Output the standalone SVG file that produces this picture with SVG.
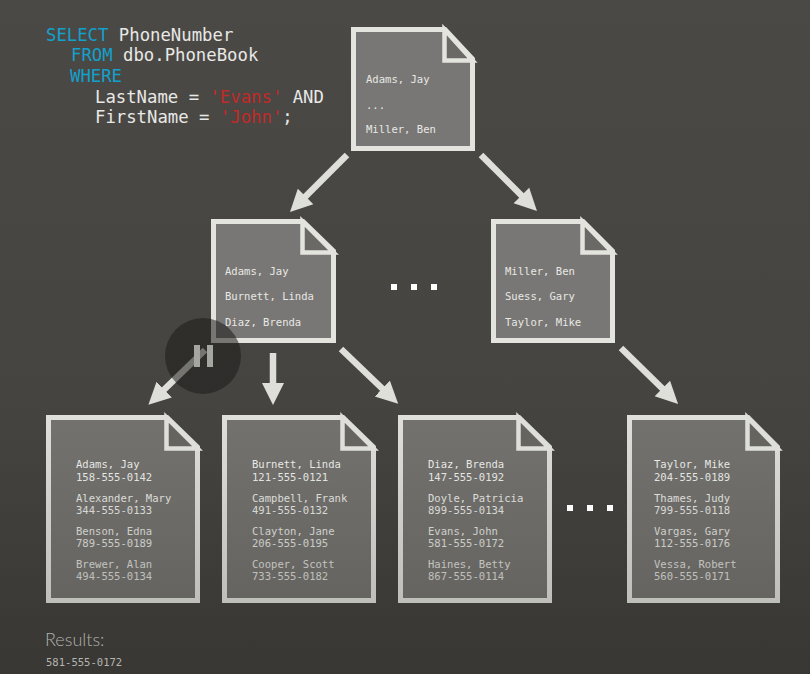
<svg xmlns="http://www.w3.org/2000/svg" width="810" height="674" viewBox="0 0 810 674">
<style>
.t{font-family:"DejaVu Sans Mono","Liberation Mono",monospace;font-size:10.55px;fill:#e8e8e4}
.l{fill:url(#lt)}
.s{font-family:"DejaVu Sans Mono","Liberation Mono",monospace;font-size:17.3px;fill:#e8e8e5}
.k{fill:#12a0cc}.r{fill:#c22a28}
.p{fill:#787775;stroke:#e4e4df;stroke-width:5;stroke-linejoin:miter}
.f{fill:#6a6966;stroke:#e4e4df;stroke-width:4.5}
.lp{fill:url(#pg);stroke:url(#ps);stroke-width:5;stroke-linejoin:miter}
.lf{fill:#65645f;stroke:#dededa;stroke-width:4.5}
.a{stroke:#dfdfda;stroke-width:6.5;fill:none;marker-end:url(#ah)}
.d{fill:#fff}
</style>
<defs>
<linearGradient id="bg" x1="0" y1="0" x2="0" y2="1"><stop offset="0" stop-color="#4b4946"/><stop offset="0.6" stop-color="#464441"/><stop offset="1" stop-color="#383733"/></linearGradient>
<linearGradient id="pg" x1="0" y1="0" x2="0" y2="1"><stop offset="0" stop-color="#73726f"/><stop offset="1" stop-color="#656461"/></linearGradient>
<linearGradient id="ps" gradientUnits="userSpaceOnUse" x1="0" y1="415" x2="0" y2="603"><stop offset="0" stop-color="#dfdfdb"/><stop offset="1" stop-color="#bfbfba"/></linearGradient>
<linearGradient id="lt" gradientUnits="userSpaceOnUse" x1="0" y1="458" x2="0" y2="584"><stop offset="0" stop-color="#ecece8"/><stop offset="1" stop-color="#bcbcb7"/></linearGradient>
<marker id="ah" markerUnits="userSpaceOnUse" markerWidth="26" markerHeight="26" refX="10" refY="11.5" orient="auto"><path d="M0,0.5L22,11.5L0,22.5L0,0.5Z" fill="#dfdfda"/></marker>
</defs>
<rect width="810" height="674" fill="url(#bg)"/>
<g id="query">
<text class="s" x="46" y="41"><tspan class="k">SELECT</tspan> PhoneNumber</text>
<text class="s" x="71" y="61"><tspan class="k">FROM</tspan> dbo.PhoneBook</text>
<text class="s k" x="70" y="82">WHERE</text>
<text class="s" x="95" y="103">LastName = <tspan class="r">'Evans'</tspan> AND</text>
<text class="s" x="95" y="123">FirstName = <tspan class="r">'John'</tspan>;</text>
</g>
<g id="connectors">
<line class="a" x1="347" y1="155" x2="298.500" y2="203.500"/>
<line class="a" x1="481" y1="155" x2="528.500" y2="202.500"/>
<line class="a" x1="205" y1="350" x2="157" y2="396.500"/>
<line class="a" x1="273" y1="353" x2="273" y2="393"/>
<line class="a" x1="341" y1="349" x2="389.500" y2="395.500"/>
<line class="a" x1="621" y1="348" x2="669.500" y2="395.500"/>
</g>
<g id="root">
<path class="p" d="M353.500,29.500H445L472.500,59V148.500H353.500Z"/><path class="f" d="M444.500,29.500L472.500,60.500H444.500Z"/>
<text class="t" x="366" y="83">Adams, Jay</text><text class="t" x="366" y="109">...</text><text class="t" x="366" y="133">Miller, Ben</text>
</g>
<g id="branch-left">
<path class="p" d="M213.500,221.500H303L333.500,251V340.500H213.500Z"/><path class="f" d="M302.500,221.500L333.500,252.500H302.500Z"/>
<text class="t" x="225" y="275">Adams, Jay</text><text class="t" x="225" y="300">Burnett, Linda</text><text class="t" x="225" y="326">Diaz, Brenda</text>
</g>
<g id="branch-right">
<path class="p" d="M493.500,221.500H583L612.500,251V340.500H493.500Z"/><path class="f" d="M582.500,221.500L612.500,252.500H582.500Z"/>
<text class="t" x="505" y="275">Miller, Ben</text><text class="t" x="505" y="300">Suess, Gary</text><text class="t" x="505" y="326">Taylor, Mike</text>
</g>
<g id="leaf-1">
<path class="lp" d="M48.500,417.500H167L197.500,447V600.500H48.500Z"/><path class="lf" d="M166.500,417.500L197.500,448.500H166.500Z"/>
<text class="t l" x="76" y="468">Adams, Jay</text><text class="t l" x="76" y="481">158-555-0142</text>
<text class="t l" x="76" y="502">Alexander, Mary</text><text class="t l" x="76" y="514">344-555-0133</text>
<text class="t l" x="76" y="535">Benson, Edna</text><text class="t l" x="76" y="547">789-555-0189</text>
<text class="t l" x="76" y="568">Brewer, Alan</text><text class="t l" x="76" y="580">494-555-0134</text>
</g>
<g id="leaf-2">
<path class="lp" d="M224.500,417.500H343L373.500,447V600.500H224.500Z"/><path class="lf" d="M342.500,417.500L373.500,448.500H342.500Z"/>
<text class="t l" x="252" y="468">Burnett, Linda</text><text class="t l" x="252" y="481">121-555-0121</text>
<text class="t l" x="252" y="502">Campbell, Frank</text><text class="t l" x="252" y="514">491-555-0132</text>
<text class="t l" x="252" y="535">Clayton, Jane</text><text class="t l" x="252" y="547">206-555-0195</text>
<text class="t l" x="252" y="568">Cooper, Scott</text><text class="t l" x="252" y="580">733-555-0182</text>
</g>
<g id="leaf-3">
<path class="lp" d="M400.500,417.500H519L549.500,447V600.500H400.500Z"/><path class="lf" d="M518.500,417.500L549.500,448.500H518.500Z"/>
<text class="t l" x="428" y="468">Diaz, Brenda</text><text class="t l" x="428" y="481">147-555-0192</text>
<text class="t l" x="428" y="502">Doyle, Patricia</text><text class="t l" x="428" y="514">899-555-0134</text>
<text class="t l" x="428" y="535">Evans, John</text><text class="t l" x="428" y="547">581-555-0172</text>
<text class="t l" x="428" y="568">Haines, Betty</text><text class="t l" x="428" y="580">867-555-0114</text>
</g>
<g id="leaf-4">
<path class="lp" d="M629.500,417.500H748L777.500,447V600.500H629.500Z"/><path class="lf" d="M747.500,417.500L777.500,448.500H747.500Z"/>
<text class="t l" x="654" y="468">Taylor, Mike</text><text class="t l" x="654" y="481">204-555-0189</text>
<text class="t l" x="654" y="502">Thames, Judy</text><text class="t l" x="654" y="514">799-555-0118</text>
<text class="t l" x="654" y="535">Vargas, Gary</text><text class="t l" x="654" y="547">112-555-0176</text>
<text class="t l" x="654" y="568">Vessa, Robert</text><text class="t l" x="654" y="580">560-555-0171</text>
</g>
<g id="ellipsis-1"><rect class="d" x="391" y="284" width="6" height="6"/><rect class="d" x="411" y="284" width="6" height="6"/><rect class="d" x="431" y="284" width="6" height="6"/></g>
<g id="ellipsis-2"><rect class="d" x="567" y="505" width="6" height="6"/><rect class="d" x="587" y="505" width="6" height="6"/><rect class="d" x="607" y="505" width="6" height="6"/></g>
<g id="pause"><circle cx="203" cy="356" r="38" fill="#1c1b19" opacity="0.55"/><rect x="194" y="345" width="6" height="22" fill="#a5a5a2"/><rect x="207" y="345" width="6" height="22" fill="#a5a5a2"/></g>
<g id="results">
<text x="45" y="646" font-family="Lato,'Open Sans',sans-serif" font-size="18" font-weight="300" fill="#b0b0ab">Results:</text>
<text class="t" x="46" y="666" style="fill:#b5b5b0">581-555-0172</text>
</g>
</svg>
